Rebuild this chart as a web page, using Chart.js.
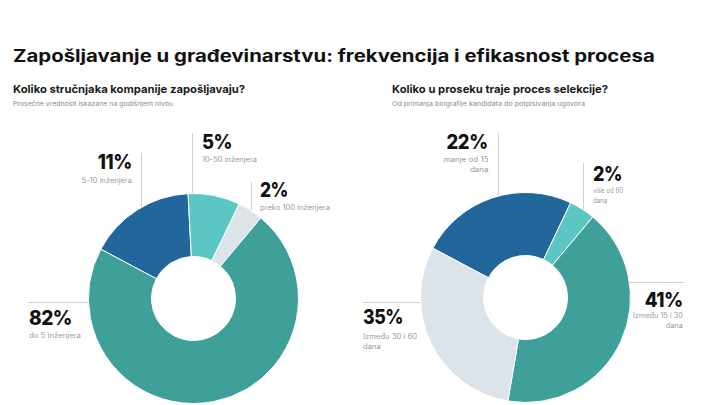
<!DOCTYPE html>
<html>
<head>
<meta charset="utf-8">
<script src="https://cdn.jsdelivr.net/npm/chart.js@4.4.1/dist/chart.umd.min.js"></script>
<style>
  html, body { margin:0; padding:0; width:720px; height:405px; overflow:hidden; background:#fff; }
  body { position:relative; font-family: Inter, "Noto Sans", sans-serif; color:#111; }
  .t { position:absolute; white-space:nowrap; line-height:1; }
  .title { font-size:17px; font-weight:700; }
  .sub { font-size:11px; font-weight:700; color:#1a1a1a; }
  .note { font-size:6px; color:#8a8a8a; }
  .pct { font-size:20px; font-weight:800; color:#111; letter-spacing:-0.5px; }
  .lab { font-size:7px; color:#9a9a9a; line-height:10px; }
  .ln { position:absolute; background:#d0d0d0; }
  canvas { position:absolute; }
</style>
</head>
<body>
<script>
// ---- data ----
const leftCategories  = ['5-10 inženjera', '10-50 inženjera', 'preko 100 inženjera', 'do 5 inženjera'];
const leftSliceValues = [16.4, 8.0, 3.9, 71.7];   // slice sizes as drawn
const leftPercents    = [11, 5, 2, 82];           // printed labels
const rightCategories  = ['manje od 15 dana', 'više od 60 dana', 'Između 15 i 30 dana', 'Između 30 i 60 dana'];
const rightSliceValues = [24.3, 4.0, 41.6, 30.1];
const rightPercents    = [22, 2, 41, 35];
const leftColors  = ['#22679b', '#5cc6c3', '#dce3e9', '#3fa09a'];
const rightColors = ['#22679b', '#5cc6c3', '#3fa09a', '#dce3e9'];

function addText(cls, text, pos, w, align) {
  const d = document.createElement('div');
  d.className = 't ' + cls;
  d.innerHTML = text;
  Object.assign(d.style, pos);
  if (align === 'right') d.style.textAlign = 'right';
  document.body.appendChild(d);
  if (w) { d.dataset.w = w; d.dataset.align = align || 'left'; }
  return d;
}
function addLine(x, y, w, h) {
  const d = document.createElement('div');
  d.className = 'ln';
  Object.assign(d.style, {left:x+'px', top:y+'px', width:w+'px', height:h+'px'});
  document.body.appendChild(d);
}

addText('title', 'Zapošljavanje u građevinarstvu: frekvencija i efikasnost procesa', {left:'13px', top:'48px'}, 642);
addText('sub', 'Koliko stručnjaka kompanije zapošljavaju?', {left:'13px', top:'84px'}, 232);
addText('note', 'Prosečne vrednosti iskazane na godišnjem nivou', {left:'13px', top:'101px'}, 160);
addText('sub', 'Koliko u proseku traje proces selekcije?', {left:'392px', top:'84px'}, 216);
addText('note', 'Od primanja biografije kandidata do potpisivanja ugovora', {left:'392px', top:'101px'}, 193);

// left labels
addText('pct', leftPercents[0] + '%', {right:(720-132)+'px', top:'152px'}, 34, 'right');
addText('lab', leftCategories[0], {right:(720-132)+'px', top:'176px'}, 50, 'right');
addText('pct', leftPercents[1] + '%', {left:'202px', top:'132px'}, 30);
addText('lab', leftCategories[1], {left:'202px', top:'155px'}, 55);
addText('pct', leftPercents[2] + '%', {left:'260px', top:'180px'}, 28);
addText('lab', leftCategories[2], {left:'260px', top:'203px'}, 70);
addText('pct', leftPercents[3] + '%', {left:'29px', top:'308px'}, 43);
addText('lab', leftCategories[3], {left:'29px', top:'331px'}, 52);
addLine(141, 153, 1, 54);
addLine(192, 133, 1, 60);
addLine(251, 182, 1, 28);
addLine(28, 302, 60, 1);

// right labels
addText('pct', rightPercents[0] + '%', {right:(720-488)+'px', top:'132px'}, 41, 'right');
addText('lab', 'manje od 15<br>dana', {right:(720-488)+'px', top:'155px'}, 45, 'right');
addText('pct', rightPercents[1] + '%', {left:'593px', top:'164px'}, 29);
addText('lab', 'više od 60<br>dana', {left:'593px', top:'186px'}, 30);
addText('pct', rightPercents[2] + '%', {right:(720-683)+'px', top:'290px'}, 38, 'right');
addText('lab', 'Između 15 i 30<br>dana', {right:(720-683)+'px', top:'311px'}, 50, 'right');
addText('pct', rightPercents[3] + '%', {left:'363px', top:'307px'}, 40);
addText('lab', 'Između 30 i 60<br>dana', {left:'363px', top:'332px'}, 54);
addLine(498, 133, 1, 64);
addLine(583, 163, 1, 47);
addLine(628, 282, 56, 1);
addLine(363, 302, 57, 1);

// fit widths
document.querySelectorAll('[data-w]').forEach(d => {
  const w = d.getBoundingClientRect().width;
  const s = parseFloat(d.dataset.w) / w;
  d.style.transformOrigin = d.dataset.align === 'right' ? 'right top' : 'left top';
  d.style.transform = 'scaleX(' + s.toFixed(3) + ')';
});

function makeDonut(cx, cy, r, values, colors, labels) {
  const c = document.createElement('canvas');
  const size = 2 * r + 1;
  c.width = size; c.height = size;
  c.style.left = (cx - size / 2) + 'px';
  c.style.top = (cy - size / 2) + 'px';
  c.style.width = size + 'px'; c.style.height = size + 'px';
  document.body.appendChild(c);
  new Chart(c, {
    type: 'doughnut',
    data: { labels: labels, datasets: [{ data: values, backgroundColor: colors, borderColor: '#ffffff', borderWidth: 1 }] },
    options: {
      responsive: false, animation: false, rotation: -62, cutout: '40%',
      layout: { padding: 0 },
      plugins: { legend: { display: false }, tooltip: { enabled: false } }
    }
  });
}
makeDonut(193, 298, 105, leftSliceValues, leftColors, leftCategories);
makeDonut(525, 297, 105, rightSliceValues, rightColors, rightCategories);
</script>
</body>
</html>
